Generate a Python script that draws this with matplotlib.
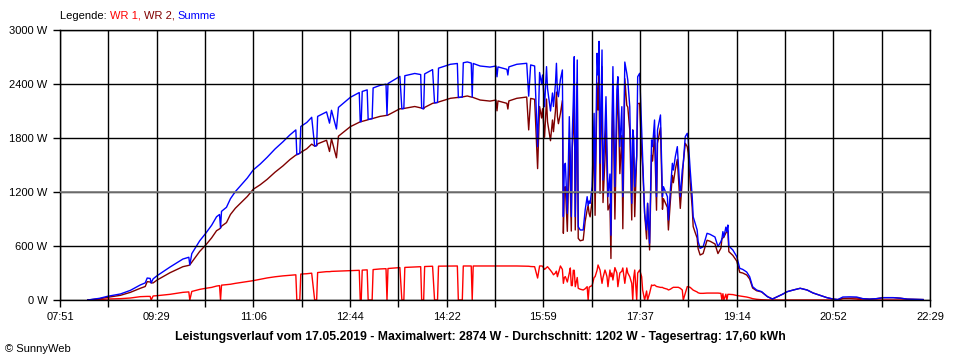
import numpy as np
import matplotlib
matplotlib.use('Agg')
import matplotlib.pyplot as plt

plt.rcParams['font.family'] = ['Liberation Sans', 'DejaVu Sans']

# Zeit in Minuten seit Mitternacht (07:51 = 471, 22:29 = 1349)
zeit = [499, 511, 519, 532, 542, 552, 557, 559, 562, 563, 565, 569, 582, 595, 601, 602, 604, 612, 618, 624,
        629, 632, 633, 634, 639, 643, 648, 653, 660, 666, 673, 680, 688, 696, 703, 709, 710, 713, 714, 720,
        725, 728, 730, 731, 740, 743, 745, 750, 752, 764, 773, 774, 775, 776, 781, 782, 786, 787, 794, 800,
        801, 802, 814, 816, 818, 819, 829, 835, 836, 838, 839, 847, 849, 852, 853, 865, 872, 873, 877, 878,
        882, 886, 887, 888, 895, 905, 911, 912, 913, 922, 923, 924, 932, 942, 944, 946, 950, 953, 955,
        957, 958, 960, 962, 963, 966, 968, 969, 971, 972, 973, 974, 976, 978, 979, 980, 981, 983, 985, 986,
        987, 988, 989, 990, 991, 992, 993, 994, 996, 999, 1001, 1003, 1004, 1005, 1006, 1008, 1010, 1011, 1013, 1014,
        1015, 1016, 1018, 1019, 1021, 1022, 1023, 1024, 1026, 1027, 1028, 1029, 1031, 1033, 1034, 1036, 1038, 1039, 1041, 1043,
        1044, 1046, 1048, 1049, 1050, 1051, 1053, 1054, 1056, 1058, 1059, 1061, 1063, 1064, 1066, 1068, 1069, 1071, 1073, 1074,
        1077, 1079, 1080, 1084, 1085, 1087, 1089, 1090, 1092, 1094, 1095, 1097, 1099, 1100, 1102, 1104, 1105, 1107, 1109, 1110,
        1112, 1114, 1115, 1117, 1120, 1124, 1127, 1132, 1135, 1138, 1139, 1140, 1141, 1143, 1144, 1145, 1146, 1150, 1154, 1157,
        1160, 1164, 1167, 1170, 1174, 1179, 1185, 1190, 1195, 1200, 1205, 1211, 1218, 1225, 1231, 1238, 1245, 1251, 1256, 1261,
        1268, 1275, 1281, 1288, 1295, 1302, 1312, 1319, 1326, 1334, 1342]

# WR 1 (kleiner Wechselrichter)
wr1 = [0, 5, 11, 15, 22, 37, 40, 40, 40, 0, 45, 48, 63, 85, 90, 0, 95, 118, 130, 140,
       155, 160, 0, 165, 170, 175, 185, 193, 205, 215, 230, 245, 258, 268, 274, 280, 0, 0, 288, 292,
       298, 0, 0, 305, 315, 315, 318, 320, 320, 326, 330, 0, 0, 332, 335, 0, 0, 338, 345, 348,
       0, 350, 360, 0, 0, 362, 367, 370, 0, 0, 372, 375, 0, 0, 376, 378, 378, 0, 0, 378,
       378, 378, 0, 378, 378, 378, 378, 378, 378, 378, 378, 378, 378, 375, 375, 372, 370, 244, 378,
       378, 375, 340, 360, 370, 330, 300, 280, 300, 320, 259, 300, 378, 340, 185, 250, 260, 200, 300, 356,
       160, 160, 330, 330, 148, 200, 250, 130, 120, 111, 125, 148, 0, 140, 150, 160, 250, 259, 330, 389,
       360, 333, 185, 250, 333, 300, 259, 148, 333, 259, 300, 222, 360, 300, 148, 300, 320, 356, 185, 356,
       300, 259, 185, 0, 250, 333, 0, 300, 333, 259, 111, 0, 100, 0, 74, 167, 160, 167, 150, 148,
       140, 140, 133, 120, 111, 120, 135, 141, 141, 141, 141, 130, 111, 0, 74, 148, 148, 140, 120, 110,
       100, 89, 80, 74, 74, 77, 77, 77, 77, 74, 0, 70, 0, 65, 0, 63, 63, 60, 50, 45,
       40, 33, 25, 15, 8, 3, 0, 0, 0, 0, 0, 0, 0, 0, 0, 0, 0, 0, 0, 15,
       15, 10, 0, 0, 0, 0, 0, 0, 0, 0, 0]

# Summe beider Wechselrichter
summe = [0, 19, 41, 67, 107, 167, 190, 244, 240, 190, 235, 270, 366, 455, 475, 390, 515, 658, 740, 830,
         925, 950, 800, 985, 1030, 1125, 1205, 1267, 1355, 1445, 1510, 1585, 1678, 1758, 1834, 1890, 1615, 1630, 1928, 1972,
         2030, 1710, 1715, 2040, 2090, 1965, 2108, 1900, 2140, 2252, 2305, 1980, 1982, 2317, 2335, 2005, 2015, 2356, 2385, 2398,
         2052, 2405, 2485, 2125, 2128, 2492, 2517, 2505, 2130, 2125, 2512, 2560, 2190, 2195, 2576, 2619, 2628, 2250, 2255, 2636,
         2645, 2633, 2255, 2628, 2600, 2588, 2600, 2480, 2590, 2563, 2500, 2590, 2619, 2630, 2265, 2612, 2600, 1704, 2528,
         2400, 2500, 2148, 2593, 2350, 2100, 2300, 2150, 2400, 2630, 2300, 2259, 2450, 2556, 926, 1500, 1519, 963, 2037, 1600,
         926, 1852, 2200, 2704, 926, 1800, 2667, 815, 778, 778, 1000, 1148, 1050, 1100, 1074, 1259, 2074, 1200, 2741, 2500,
         2874, 1519, 2778, 1333, 1900, 2259, 1700, 1148, 1400, 720, 1889, 2593, 1259, 2333, 2481, 1704, 2148, 1148, 2644, 2519,
         2444, 2148, 1074, 1889, 1800, 1259, 1600, 2481, 2519, 1889, 1593, 963, 778, 1074, 630, 1778, 1704, 2000, 1148, 1889,
         2056, 1148, 1259, 1148, 889, 1222, 1519, 1444, 1593, 1704, 1519, 1148, 1444, 1519, 1815, 1852, 1778, 1444, 1148, 926,
         850, 778, 650, 574, 590, 741, 730, 700, 593, 650, 680, 760, 700, 810, 760, 833, 600, 556, 482, 352,
         340, 311, 259, 148, 111, 93, 37, 11, 37, 63, 93, 111, 130, 111, 78, 52, 26, 11, 5, 33,
         35, 33, 15, 10, 15, 26, 26, 20, 10, 8, 5]

x_labels = ['07:51', '09:29', '11:06', '12:44', '14:22', '15:59', '17:37', '19:14', '20:52', '22:29']
y_ticks = [0, 600, 1200, 1800, 2400, 3000]
durchschnitt = 1202
titel = ('Leistungsverlauf vom 17.05.2019 - Maximalwert: 2874 W - Durchschnitt: 1202 W'
         ' - Tagesertrag: 17,60 kWh')

zeit = np.array(zeit)
wr1 = np.array(wr1)
summe = np.array(summe)
wr2 = summe - wr1

fig = plt.figure(figsize=(9.6, 3.6), dpi=100)
ax = fig.add_axes([60 / 960, 1 - 300 / 360, 870 / 960, 270 / 360])

ax.plot(zeit, wr1, color='#ff0000', lw=1.0, zorder=2)
ax.plot(zeit, wr2, color='#800000', lw=1.0, zorder=2)
ax.plot(zeit, summe, color='#0000ff', lw=1.0, zorder=2)

ax.set_xlim(471, 1349)
ax.set_ylim(0, 3000)

xpos = np.linspace(471, 1349, 19)
ax.set_xticks(xpos)
ax.set_xticklabels([x_labels[i // 2] if i % 2 == 0 else '' for i in range(19)], fontsize=8)
ax.set_yticks(y_ticks)
ax.set_yticklabels([f'{v} W' for v in y_ticks], fontsize=8)
ax.tick_params(axis='both', length=5, width=1, color='black', direction='out')
ax.tick_params(axis='x', pad=4)
ax.tick_params(axis='y', pad=4)

ax.set_axisbelow(False)
ax.grid(True, color='black', lw=1.0)
ax.axhline(durchschnitt, color='#808080', lw=1.2, zorder=2.6)
for s in ax.spines.values():
    s.set_color('black')
    s.set_linewidth(1.0)

# Legende oben links, mehrfarbig
teile = [('Legende: ', 'black'), ('WR 1, ', '#ff0000'), ('WR 2, ', '#800000'), ('Summe', '#0000ff')]
fig.canvas.draw()
r = fig.canvas.get_renderer()
xt = 60 / 960
for txt, col in teile:
    t = fig.text(xt, 1 - 16 / 360, txt, color=col, fontsize=8, va='center', ha='left')
    bb = t.get_window_extent(renderer=r)
    xt += bb.width / 960

fig.text(480 / 960, 1 - 337 / 360, titel, fontsize=8.8, fontweight='bold', ha='center', va='center')
fig.text(5 / 960, 1 - 349 / 360, '\u00a9 SunnyWeb', fontsize=8, ha='left', va='center')

fig.savefig('out.png', dpi=100)
